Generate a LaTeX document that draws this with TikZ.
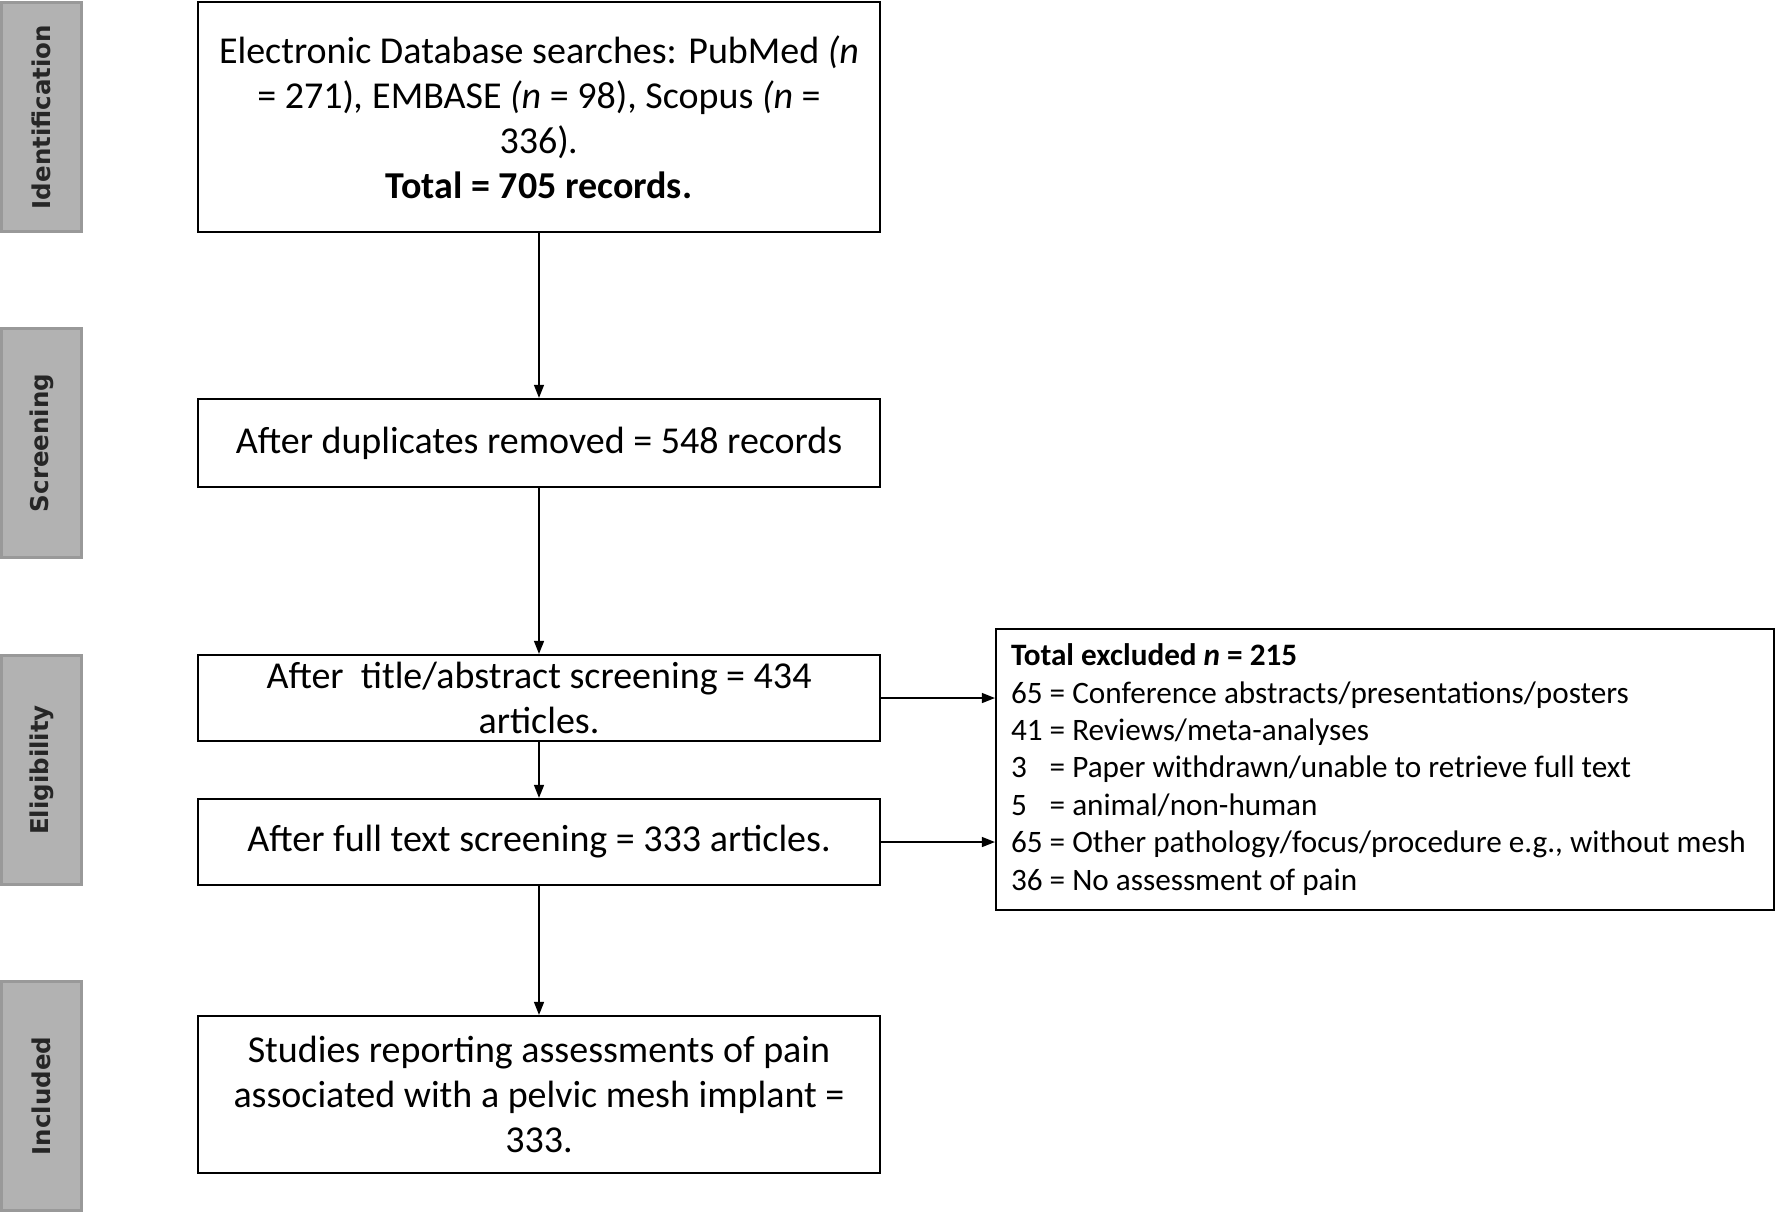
\documentclass[tikz,border=0pt]{standalone}
\usepackage{fontspec}
\setmainfont{Carlito}
\newfontfamily\sidefont{DejaVu Sans}
\usetikzlibrary{arrows.meta}
\begin{document}
\begin{tikzpicture}[x=1pt,y=-1pt,
  box/.style={draw=black, line width=2.2pt, minimum width=682pt, inner sep=0pt, align=flush center,
    font=\fontsize{38}{45}\selectfont},
  excl/.style={draw=black, line width=2.2pt, minimum width=778pt, minimum height=281pt,
    text width=748pt, inner xsep=15pt, inner ysep=0pt, align=flush left,
    font=\fontsize{31.2}{37.4}\selectfont},
  side/.style={draw=gray!80, fill=gray!60, line width=2.5pt, minimum width=229pt,
    minimum height=80pt, inner sep=0pt, rotate=90,
    font=\sidefont\bfseries\fontsize{24.5}{28}\selectfont, text=black!85},
  arr/.style={-{Triangle[length=13pt,width=10pt]}, line width=1.3pt}]
\useasboundingbox (0,0) rectangle (1776,1212);

\node[side] (s1) at (41.5,117) {Identification};
\node[side] (s2) at (41.5,443) {Screening};
\node[side] (s3) at (41.5,770) {Eligibility};
\node[side] (s4) at (41.5,1096) {Included};

\node[box, minimum height=230pt] (b1) at (539,117)
  {Electronic Database searches: PubMed \textit{(n}\\
   = 271)\textit{,} EMBASE \textit{(n} = 98), Scopus \textit{(n} =\\
   336)\textit{.}\\
   \textbf{Total = 705 records.}};
\node[box, minimum height=88pt] (b2) at (539,443) {After duplicates removed = 548 records};
\node[box, minimum height=86pt] (b3) at (539,698) {After\ \ title/abstract screening = 434\\articles.};
\node[box, minimum height=86pt] (b4) at (539,842) {After full text screening = 333 articles.};
\node[box, minimum height=157pt] (b5) at (539,1094.5)
  {Studies reporting assessments of pain\\associated with a pelvic mesh implant =\\333.};

\node[excl] (ex) at (1385,769.5)
  {\textbf{Total excluded \textit{n} = 215}\\
   65 = Conference abstracts/presentations/posters\\
   41 = Reviews/meta-analyses\\
   \leavevmode\rlap{3}\phantom{65} = Paper withdrawn/unable to retrieve full text\\
   \leavevmode\rlap{5}\phantom{65} = animal/non-human\\
   65 = Other pathology/focus/procedure e.g., without mesh\\
   36 = No assessment of pain};

\draw[arr] (b1) -- (b2);
\draw[arr] (b2) -- (b3);
\draw[arr] (b3) -- (b4);
\draw[arr] (b4) -- (b5);
\draw[arr] (b3.east) -- (b3.east -| ex.west);
\draw[arr] (b4.east) -- (b4.east -| ex.west);
\end{tikzpicture}
\end{document}
